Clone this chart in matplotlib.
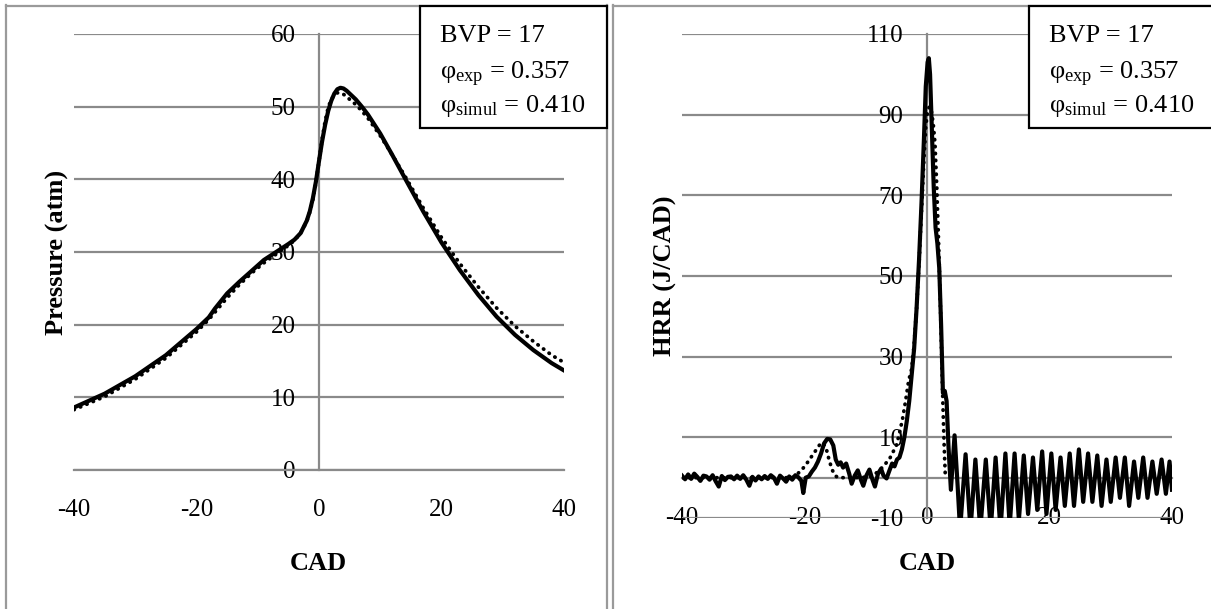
import matplotlib
matplotlib.use("Agg")
import matplotlib.pyplot as plt
from matplotlib.patches import Rectangle
from matplotlib.lines import Line2D

plt.rcParams['font.family'] = ['Liberation Serif', 'DejaVu Serif']
plt.rcParams['mathtext.fontset'] = 'custom'
plt.rcParams['mathtext.rm'] = 'Liberation Serif'
plt.rcParams['mathtext.it'] = 'Liberation Serif:italic'
plt.rcParams['mathtext.bf'] = 'Liberation Serif:bold'
plt.rcParams['axes.unicode_minus'] = False

# ---------------- data ----------------
p_cad = [-40, -35, -30, -25, -20, -18, -17, -15, -13, -11, -9, -7, -5, -4, -3, -2, -1.5, -1, -0.5,
         0, 0.5, 1, 1.5, 2, 2.5, 3, 3.5, 4, 4.5, 5, 6, 7, 8, 10, 12, 14, 17, 20, 23, 26, 29, 32, 35, 38, 40]
p_exp = [8.6, 10.5, 12.9, 15.8, 19.4, 21.0, 22.2, 24.3, 25.9, 27.4, 28.9, 30.0, 31.1, 31.7, 32.6, 34.3, 35.6, 37.4, 39.7,
         42.5, 45.2, 47.5, 49.4, 50.8, 51.8, 52.4, 52.6, 52.5, 52.2, 51.8, 51.0, 50.0, 48.9, 46.3, 43.3, 40.2, 35.6, 31.3,
         27.5, 24.1, 21.1, 18.6, 16.5, 14.7, 13.7]
p_sim = [8.3, 10.1, 12.5, 15.4, 19.0, 20.7, 21.7, 23.7, 25.5, 27.1, 28.5, 29.7, 30.9, 31.6, 32.6, 34.2, 35.5, 37.2, 39.6,
         42.5, 45.5, 48.0, 49.9, 51.0, 51.6, 51.9, 51.9, 51.7, 51.4, 51.0, 50.3, 49.4, 48.4, 46.0, 43.3, 40.5, 36.1, 32.0,
         28.4, 25.2, 22.3, 19.8, 17.7, 15.8, 14.8]

hrr_exp_cad = [-40, -39.5, -39, -38.5, -38, -37.5, -37, -36.5, -36, -35.5, -35, -34.5, -34, -33.5, -33, -32.5,
               -32, -31.5, -31, -30.5, -30, -29.5, -29, -28.5, -28, -27.5, -27, -26.5, -26, -25.5, -25, -24.5,
               -24, -23.5, -23, -22.5, -22, -21.5, -21, -20.5, -20.2, -19.8, -19.3, -18.8, -18.3, -17.8, -17.3,
               -16.8, -16.3, -15.8, -15.3, -14.9, -14.5, -14.1, -13.7, -13.2, -12.7, -12.3, -11.8, -11.3, -10.8,
               -10.4, -9.9, -9.4, -8.9, -8.5, -8.0, -7.5, -7.1, -6.6, -6.2, -5.7, -5.3, -4.9, -4.5, -4.1, -3.7,
               -3.3, -2.9, -2.5, -2.1, -1.7, -1.3, -0.9, -0.5, -0.2, 0.1, 0.3, 0.5, 0.8, 1.1, 1.4, 1.7, 2.0,
               2.3, 2.6, 2.9, 3.2, 3.5, 3.9, 4.5, 5.0, 5.4, 6.3, 7.1, 7.9, 8.7, 9.6, 10.4, 11.2, 12.0, 12.8,
               13.5, 14.3, 15.0, 15.8, 16.5, 17.3, 18.0, 18.8, 19.5, 20.3, 21.0, 21.8, 22.5, 23.3, 24.0, 24.8,
               25.5, 26.3, 27.0, 27.8, 28.5, 29.3, 30.0, 30.8, 31.5, 32.3, 33.0, 33.8, 34.5, 35.3, 36.0, 36.8,
               37.5, 38.3, 39.0, 39.6, 40.0]
hrr_exp = [0.5, -0.4, 0.8, -0.3, 1.0, 0.2, -0.8, 0.5, 0.3, -0.5, 0.6, -0.9, -2.2, 0.4, -0.6, 0.2, 0.3, -0.4,
           0.5, -0.3, 0.6, -0.5, -2.0, 0.2, -0.7, 0.3, -0.4, 0.4, -0.3, 0.6, 0.0, -1.5, 0.5, -0.2, -1.0, 0.3,
           -0.5, 0.6, 0.1, -0.8, -3.8, 0.0, 0.3, 1.5, 2.5, 4.0, 6.0, 8.5, 9.6, 9.5, 8.0, 4.5, 3.2, 3.8, 2.5,
           3.5, 1.0, -1.5, 0.5, 1.8, -0.5, -2.0, 0.5, 2.0, -0.5, -2.2, 1.0, 2.2, 0.5, -0.2, 1.5, 3.5, 2.8,
           4.5, 5.0, 7.0, 10.0, 14.0, 19.0, 25.5, 32.0, 42.0, 54.0, 68.0, 84.0, 97.0, 103.0, 104.0, 100.0,
           86.0, 72.0, 62.0, 58.0, 52.0, 38.0, 21.0, 21.5, 19.0, 8.0, -3.0, 10.5, -2.0, -13.0, 5.8, -13.0,
           4.5, -13.0, 4.5, -13.0, 5.0, -13.0, 6.0, -12.0, 6.0, -10.5, 5.5, -9.0, 5.0, -8.0, 6.5, -9.0, 6.0,
           -8.0, 5.0, -7.0, 6.0, -7.0, 7.0, -6.0, 6.0, -6.0, 5.5, -7.0, 4.5, -6.0, 5.0, -5.0, 5.0, -7.0, 4.0,
           -5.0, 5.0, -5.0, 4.0, -4.0, 4.5, -4.0, 4.0, -3.0]

hrr_sim_cad = [-40, -22, -21.5, -20.5, -19.5, -18.5, -17.5, -17, -16.5, -16, -15.5, -15, -14.5, -11, -9, -8,
               -7, -6, -5, -4.5, -4, -3.5, -3, -2.5, -2.1, -1.7, -1.3, -0.9, -0.5, -0.2, 0.1, 0.4, 0.7, 1.0,
               1.3, 1.6, 1.9, 2.2, 2.4, 2.6, 2.8, 3.0]
hrr_sim = [0, 0, 0.5, 1.8, 3.8, 6.0, 8.2, 8.7, 7.5, 4.5, 2.0, 0.5, 0, 0, 0.3, 1.5, 3.0, 5.0, 8.0, 11.0,
           14.5, 19.0, 24.0, 27.0, 33.0, 42.0, 53.0, 66.0, 79.0, 87.0, 91.0, 92.0, 91.0, 88.0, 83.0, 72.0,
           58.0, 42.0, 30.0, 18.0, 8.0, 0.0]

x_ticks = [-40, -20, 0, 20, 40]
p_ticks = [0, 10, 20, 30, 40, 50, 60]
hrr_ticks = [-10, 10, 30, 50, 70, 90, 110]
box_lines = ["BVP = 17", r"$\mathregular{\varphi_{exp}}$ = 0.357", r"$\mathregular{\varphi_{simul}}$ = 0.410"]

# ---------------- figure ----------------
W, H = 1211, 609
fig = plt.figure(figsize=(W / 100, H / 100), dpi=100)

def fx(px):
    return px / W

def fy(py):
    return 1 - py / H

GRAY = '#8a8a8a'
TICK_FS = 18
LAB_FS = 19
SOLID_LW = 3.0
DOT_LW = 2.7
DOT_STYLE = (0, (0.1, 1.75))

def setup(ax, yticks, ylim):
    ax.set_xlim(-40, 40)
    ax.set_ylim(*ylim)
    ax.set_xticks(x_ticks)
    ax.set_xticklabels([str(v) for v in x_ticks])
    ax.set_yticks(yticks)
    ax.set_yticklabels([str(v) for v in yticks])
    for s in ['top', 'right']:
        ax.spines[s].set_visible(False)
    ax.spines['left'].set_position(('data', 0))
    ax.spines['bottom'].set_position(('data', 0))
    for s in ['left', 'bottom']:
        ax.spines[s].set_color(GRAY)
        ax.spines[s].set_linewidth(1.6)
    ax.yaxis.grid(True, color=GRAY, lw=1.6)
    ax.set_axisbelow(True)
    ax.tick_params(axis='both', length=0, labelsize=TICK_FS, colors='black')
    ax.tick_params(axis='y', pad=17)
    ax.tick_params(axis='x', pad=21)
    ax.patch.set_alpha(0)

# Left axes
axL = fig.add_axes([fx(74), fy(470), fx(564) - fx(74), fy(34) - fy(470)])
setup(axL, p_ticks, (0, 60))
axL.plot(p_cad, p_sim, color='black', lw=DOT_LW, linestyle=DOT_STYLE, dash_capstyle='round', zorder=3)
axL.plot(p_cad, p_exp, color='black', lw=SOLID_LW, solid_joinstyle='round', zorder=4)
axL.set_xlabel('CAD', fontsize=LAB_FS, fontweight='bold')
axL.xaxis.set_label_coords((318 - 74) / 490, (470 - 563) / 436)
axL.xaxis.label.set_va('center')
axL.set_ylabel('Pressure (atm)', fontsize=LAB_FS, fontweight='bold')
axL.yaxis.set_label_coords((57 - 74) / 490, 0.5)
axL.yaxis.label.set_va('center')

# Right axes
axR = fig.add_axes([fx(682), fy(518), fx(1172) - fx(682), fy(34) - fy(518)])
setup(axR, hrr_ticks, (-10, 110))
axR.plot(hrr_sim_cad, hrr_sim, color='black', lw=DOT_LW, linestyle=DOT_STYLE, dash_capstyle='round', zorder=3)
axR.plot(hrr_exp_cad, hrr_exp, color='black', lw=SOLID_LW, solid_joinstyle='round', zorder=4)
axR.set_xlabel('CAD', fontsize=LAB_FS, fontweight='bold')
axR.xaxis.set_label_coords((927 - 682) / 490, (518 - 563) / 484)
axR.xaxis.label.set_va('center')
axR.set_ylabel('HRR (J/CAD)', fontsize=LAB_FS, fontweight='bold')
axR.yaxis.set_label_coords((665 - 682) / 490, 0.5)
axR.yaxis.label.set_va('center')

# Panel borders
BORDER = '#9a9a9a'
for xs, ys in [([6, 6], [5, 612]), ([6, 607], [6, 6]), ([607, 607], [5, 612]),
               ([613, 613], [5, 612]), ([613, 1212], [6, 6])]:
    fig.add_artist(Line2D([fx(x) for x in xs], [fy(y) for y in ys], color=BORDER, lw=1.6,
                          transform=fig.transFigure, zorder=1))

# Text boxes
for (x0, x1, tx) in [(420, 607, 440), (1029, 1213, 1049)]:
    fig.add_artist(Rectangle((fx(x0), fy(128)), fx(x1) - fx(x0), fy(6) - fy(128),
                             transform=fig.transFigure, facecolor='white', edgecolor='black',
                             lw=1.6, zorder=10))
    for line, base in zip(box_lines, [42.5, 79, 112]):
        fig.text(fx(tx), fy(base), line, fontsize=LAB_FS, ha='left', va='baseline', zorder=11)

fig.savefig('out.png', dpi=100)
